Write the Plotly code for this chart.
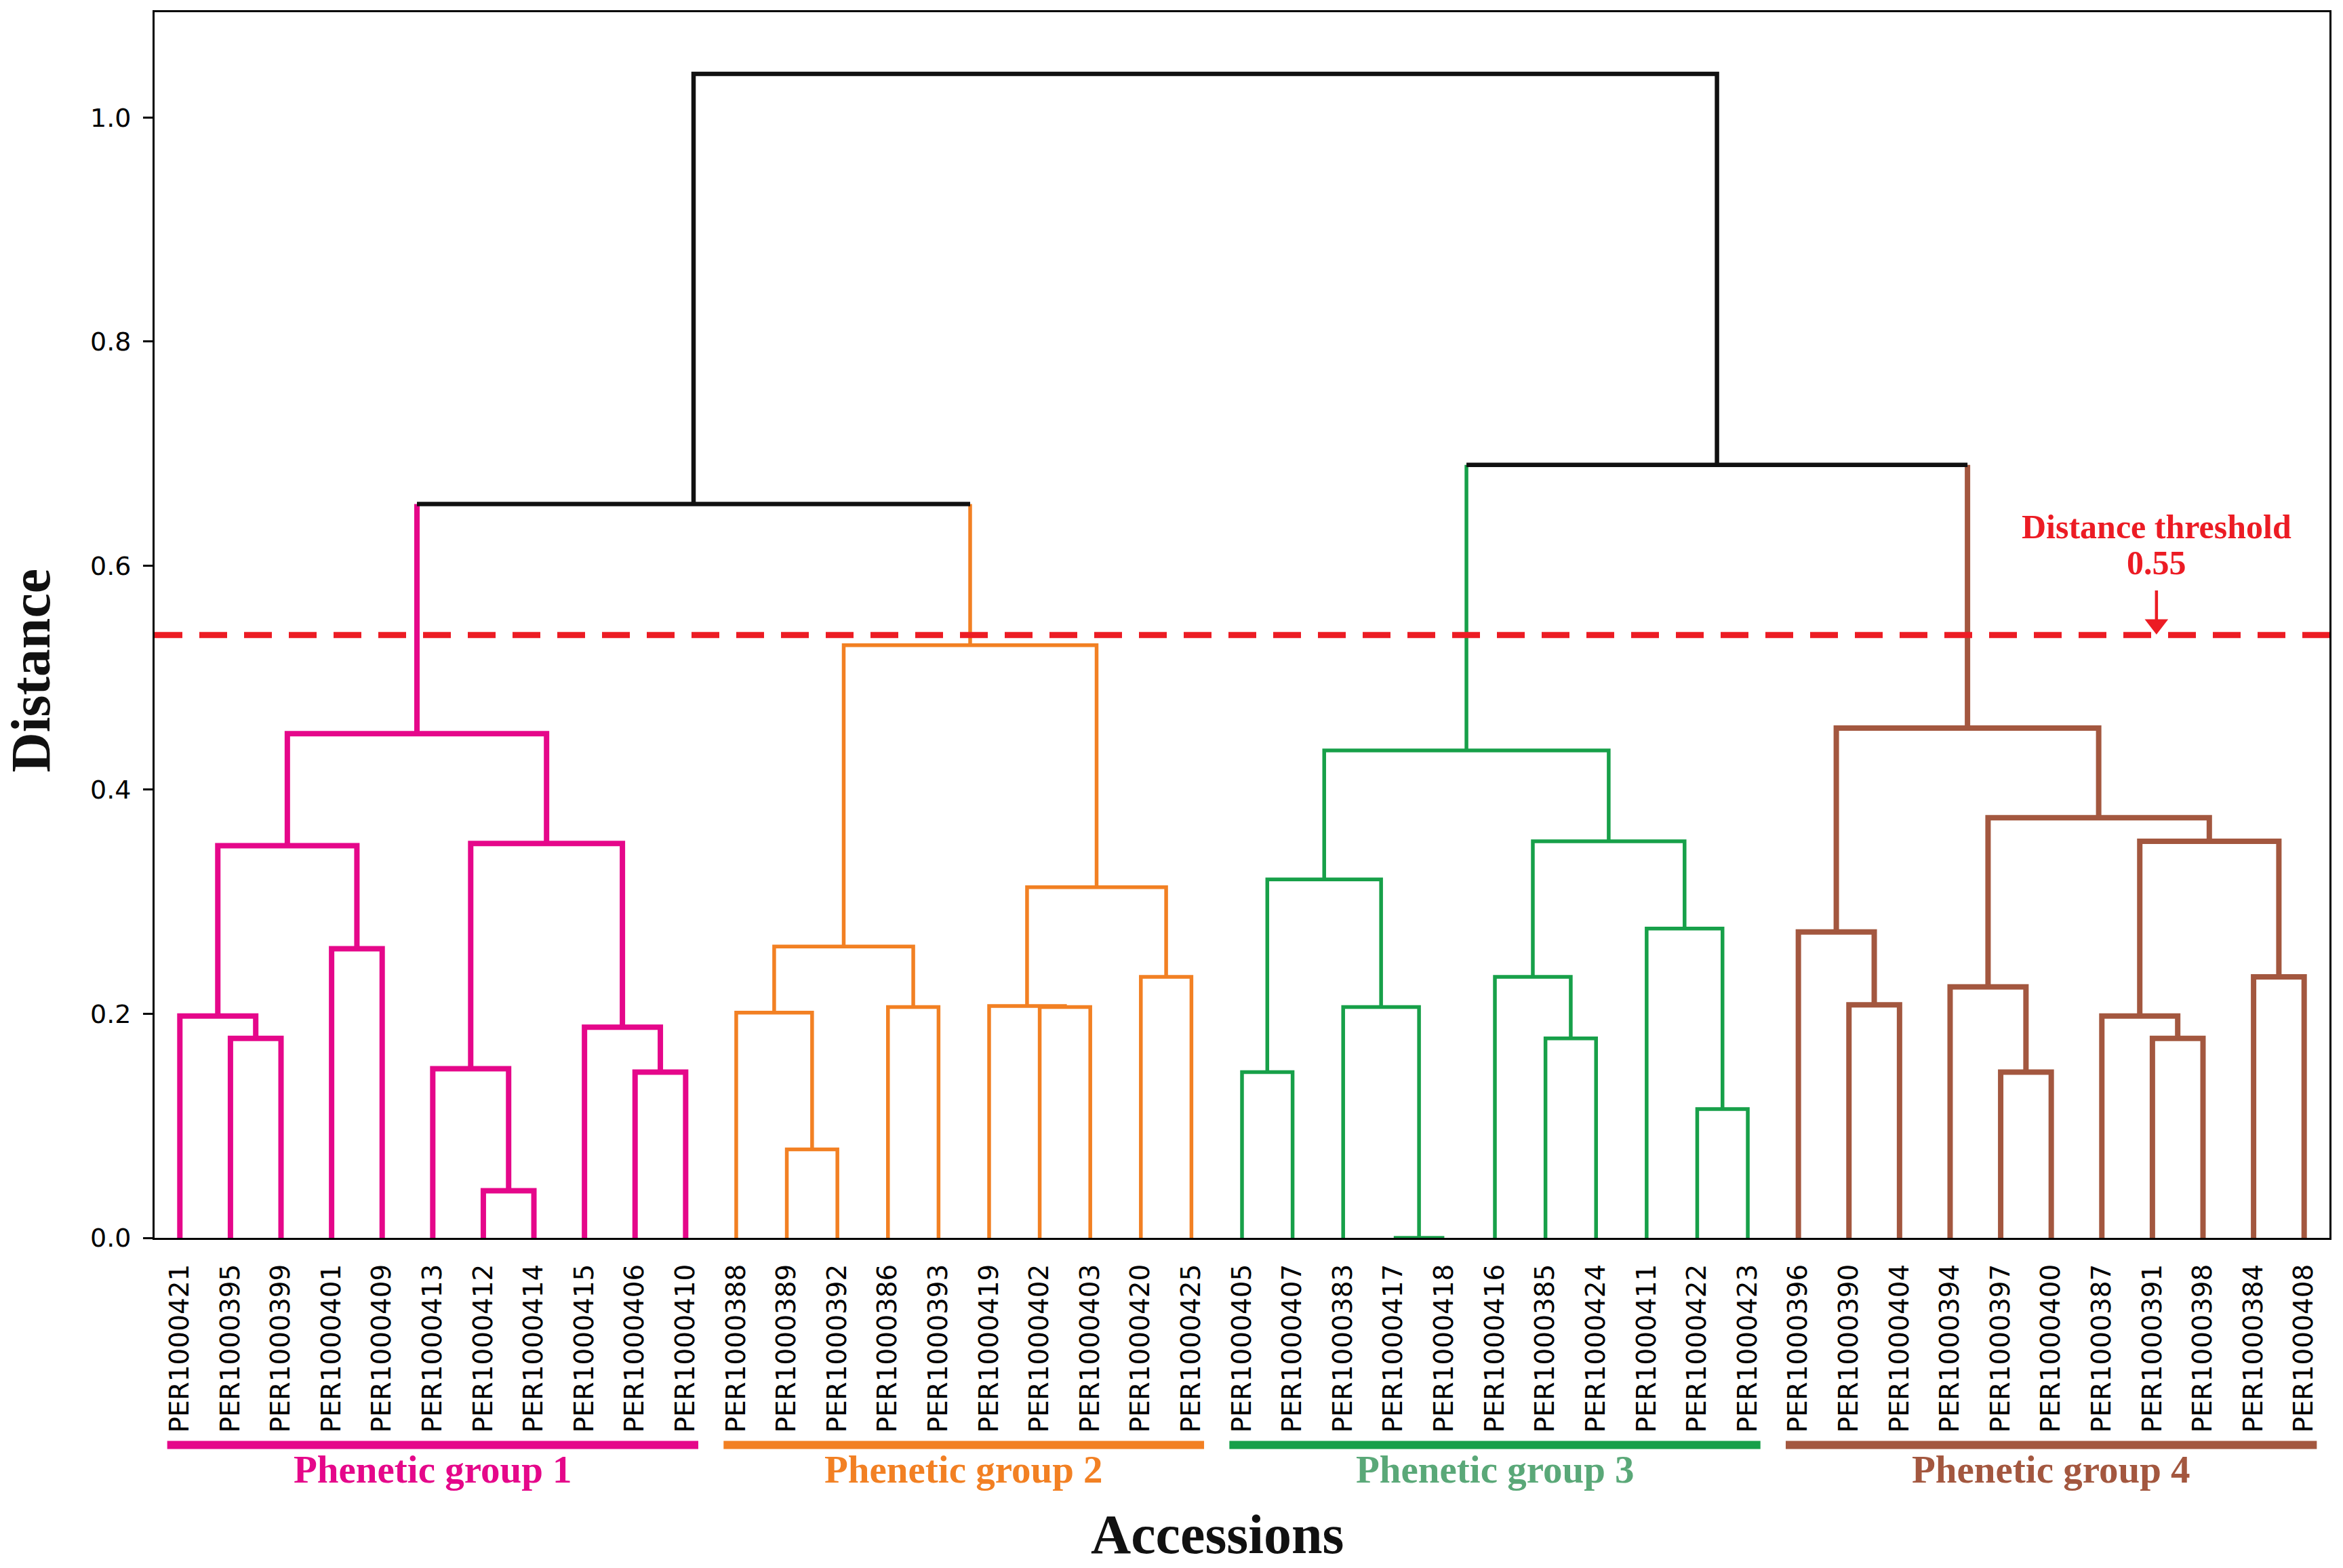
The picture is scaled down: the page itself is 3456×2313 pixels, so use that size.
"""Dendrogram of 43 PER accessions with four phenetic groups."""

import plotly.graph_objects as go

# leaf order, left to right
ACCESSIONS = [
    "PER1000421", "PER1000395", "PER1000399", "PER1000401", "PER1000409", "PER1000413",
    "PER1000412", "PER1000414", "PER1000415", "PER1000406", "PER1000410",
    "PER1000388", "PER1000389", "PER1000392", "PER1000386", "PER1000393", "PER1000419",
    "PER1000402", "PER1000403", "PER1000420", "PER1000425",
    "PER1000405", "PER1000407", "PER1000383", "PER1000417", "PER1000418", "PER1000416",
    "PER1000385", "PER1000424", "PER1000411", "PER1000422", "PER1000423",
    "PER1000396", "PER1000390", "PER1000404", "PER1000394", "PER1000397", "PER1000400",
    "PER1000387", "PER1000391", "PER1000398", "PER1000384", "PER1000408",
]

# linkage rows: (left node, right node, distance); node 43 + k is the k-th merge
MERGES = [
    (1, 2, 0.178), (0, 43, 0.198), (3, 4, 0.258), (44, 45, 0.350), (6, 7, 0.042),
    (5, 47, 0.151), (9, 10, 0.148), (8, 49, 0.188), (48, 50, 0.352), (46, 51, 0.450),
    (12, 13, 0.079), (11, 53, 0.201), (14, 15, 0.206), (54, 55, 0.260), (17, 18, 0.206),
    (16, 57, 0.207), (19, 20, 0.233), (58, 59, 0.313), (56, 60, 0.529),
    (21, 22, 0.148), (24, 25, 0.000), (23, 63, 0.206), (62, 64, 0.320), (27, 28, 0.178),
    (26, 66, 0.233), (30, 31, 0.115), (29, 68, 0.276), (67, 69, 0.354), (65, 70, 0.435),
    (33, 34, 0.208), (32, 72, 0.273), (36, 37, 0.148), (35, 74, 0.224), (39, 40, 0.178),
    (38, 76, 0.198), (41, 42, 0.233), (77, 78, 0.354), (75, 79, 0.375), (73, 80, 0.455),
    (52, 61, 0.655), (71, 81, 0.690), (82, 83, 1.039),
]

GROUP_NAMES = ["Phenetic group 1", "Phenetic group 2", "Phenetic group 3", "Phenetic group 4"]
GROUP_ROOTS = [52, 61, 71, 81]
GROUP_FIRST_LEAF = [0, 11, 21, 32]
GROUP_LAST_LEAF = [10, 20, 31, 42]

THRESHOLD = 0.538
THRESHOLD_LABEL = "0.55"

LINE_COLORS = ["#E5078A", "#F28023", "#17A049", "#A3573F"]
LABEL_COLORS = ["#E5078A", "#F28023", "#5AA878", "#A3573F"]
LINE_WIDTHS = [8, 5.5, 5.5, 8]
ABOVE_COLOR = "#111111"
ABOVE_WIDTH = 6.5
RED = "#EC1C24"

# the page body adds 8px around the figure, so the figure is 16px smaller than the window
W, H = 3440, 2297
M_L, M_R, M_T, M_B = 220, 12, 7, 479
Y_MAX = 1.094
SERIF = "Liberation Serif"
SANS = "DejaVu Sans"


def main() -> None:
    n = len(ACCESSIONS)
    xpos = {i: 5 + 10 * i for i in range(n)}
    height = {i: 0.0 for i in range(n)}
    children = {}
    for k, (a, b, d) in enumerate(MERGES):
        node = n + k
        xpos[node] = (xpos[a] + xpos[b]) / 2
        height[node] = d
        children[node] = (a, b)

    # colour every node by the group it sits in (None = above threshold)
    group_of = {}

    def _mark(node, g):
        group_of[node] = g
        if node in children:
            for c in children[node]:
                _mark(c, g)

    for g, root in enumerate(GROUP_ROOTS):
        _mark(root, g)

    paths = {g: ([], []) for g in [0, 1, 2, 3, None]}

    def _add(g, xs, ys):
        px, py = paths[g]
        px.extend(xs + [None])
        py.extend(ys + [None])

    for node, (a, b) in children.items():
        g = group_of.get(node)
        ga, gb = group_of.get(a), group_of.get(b)
        xa, xb, h = xpos[a], xpos[b], height[node]
        if ga == g == gb:
            _add(g, [xa, xa, xb, xb], [height[a], h, h, height[b]])
        else:
            _add(ga, [xa, xa], [height[a], h])
            _add(gb, [xb, xb], [height[b], h])
            _add(g, [xa, xb], [h, h])

    fig = go.Figure()
    for g in [0, 1, 2, 3, None]:
        xs, ys = paths[g]
        color = ABOVE_COLOR if g is None else LINE_COLORS[g]
        width = ABOVE_WIDTH if g is None else LINE_WIDTHS[g]
        fig.add_trace(go.Scatter(x=xs, y=ys, mode="lines", line=dict(color=color, width=width),
                                 hoverinfo="skip", showlegend=False, cliponaxis=False))

    x_max = 10 * n
    plot_w = W - M_L - M_R
    plot_h = H - M_T - M_B
    px_per_unit = plot_h / Y_MAX

    # threshold line, label and arrow
    fig.add_shape(type="line", xref="paper", x0=0, x1=1, yref="y", y0=THRESHOLD, y1=THRESHOLD,
                  line=dict(color=RED, width=9, dash="41px,25px"), layer="above")
    label_x = 395.8
    fig.add_annotation(x=label_x, y=THRESHOLD + 160 / px_per_unit, text="<b>Distance threshold</b>",
                       showarrow=False, font=dict(family=SERIF, size=50, color=RED), yanchor="middle")
    fig.add_annotation(x=label_x, y=THRESHOLD + 107 / px_per_unit, text=f"<b>{THRESHOLD_LABEL}</b>",
                       showarrow=False, font=dict(family=SERIF, size=50, color=RED), yanchor="middle")
    head = 30
    fig.add_shape(type="line", x0=label_x, x1=label_x, y0=THRESHOLD + 66 / px_per_unit,
                  y1=THRESHOLD + 20 / px_per_unit, line=dict(color=RED, width=4.5))
    fig.add_trace(go.Scatter(x=[label_x], y=[THRESHOLD + (head / 2 + 1) / px_per_unit], mode="markers",
                             marker=dict(symbol="triangle-down", size=head, color=RED, line=dict(width=0)),
                             hoverinfo="skip", showlegend=False))

    # group bars and labels under the leaf names
    for g in range(4):
        x0 = xpos[GROUP_FIRST_LEAF[g]] - 2.5
        x1 = xpos[GROUP_LAST_LEAF[g]] + 2.5
        fig.add_shape(type="line", xref="x", yref="paper", x0=x0, x1=x1, y0=-306 / plot_h, y1=-306 / plot_h,
                      line=dict(color=LINE_COLORS[g], width=12))
        fig.add_annotation(xref="x", yref="paper", x=(x0 + x1) / 2, y=-342 / plot_h,
                           text=f"<b>{GROUP_NAMES[g]}</b>", showarrow=False, yanchor="middle",
                           font=dict(family=SERIF, size=57, color=LABEL_COLORS[g]))

    fig.add_annotation(xref="paper", yref="paper", x=0.4888, y=-438 / plot_h, text="<b>Accessions</b>",
                       showarrow=False, yanchor="middle", font=dict(family=SERIF, size=82, color="#111111"))
    fig.add_annotation(xref="paper", yref="paper", x=(45 - 228) / plot_w, y=(1826 - 988) / plot_h,
                       text="<b>Distance</b>", textangle=-90, showarrow=False, xanchor="center",
                       yanchor="middle", font=dict(family=SERIF, size=82, color="#111111"))

    fig.update_layout(
        width=W, height=H,
        margin=dict(l=M_L, r=M_R, t=M_T, b=M_B),
        paper_bgcolor="white", plot_bgcolor="white",
        showlegend=False,
    )
    fig.update_xaxes(
        range=[0, x_max], tickvals=[xpos[i] for i in range(n)], ticktext=ACCESSIONS,
        tickangle=-90, ticks="", ticklabelstandoff=20,
        tickfont=dict(family=SANS, size=39, color="black"),
        showline=True, linecolor="black", linewidth=3, mirror=True,
        showgrid=False, zeroline=False,
    )
    fig.update_yaxes(
        range=[0, Y_MAX], tickvals=[0, 0.2, 0.4, 0.6, 0.8, 1.0], tickformat=".1f",
        ticks="outside", ticklen=14, tickwidth=3, tickcolor="black", ticklabelstandoff=10,
        tickfont=dict(family=SANS, size=38, color="black"),
        showline=True, linecolor="black", linewidth=3, mirror=True,
        showgrid=False, zeroline=False,
    )
    fig.write_html("out.html")


if __name__ == "__main__":
    main()
